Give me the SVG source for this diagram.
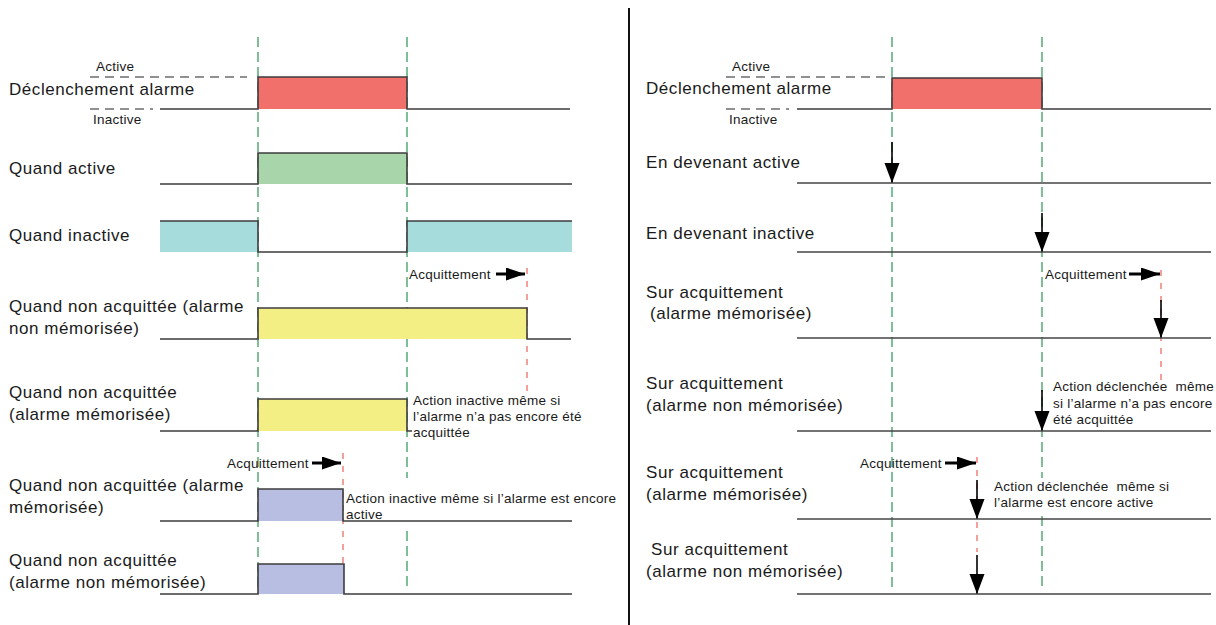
<svg xmlns="http://www.w3.org/2000/svg" width="1216" height="625" viewBox="0 0 1216 625">
<style>
text{font-family:"Liberation Sans",Arial,sans-serif;fill:#1a1a1a}
.lbl{font-size:17px;letter-spacing:0.55px}
.sm{font-size:13.5px;letter-spacing:0.25px}
.sig{fill:none;stroke:#3c3c3c;stroke-width:1.6}
.base{fill:none;stroke:#444;stroke-width:1.6}
.lvl{fill:none;stroke:#222;stroke-width:1.2;stroke-dasharray:9 6}
.g{fill:none;stroke:#3a9d62;stroke-width:1.3;stroke-dasharray:10 5}
.r{fill:none;stroke:#ef6f66;stroke-width:1.3;stroke-dasharray:6 7}
.dn{fill:none;stroke:#000;stroke-width:1.6;marker-end:url(#hd)}
.rt{fill:none;stroke:#000;stroke-width:3;marker-end:url(#hr)}
.red{fill:#f2706b}.grn{fill:#a8d5aa}.tea{fill:#a7dcdc}.yel{fill:#f4ef85}.blu{fill:#b8bee2}
</style>
<defs>
<marker id="hd" markerUnits="userSpaceOnUse" markerWidth="20" markerHeight="16" refX="20" refY="8" orient="auto" viewBox="0 0 20 16"><path d="M0,0.5 L20,8 L0,15.5 z" fill="#000"/></marker>
<marker id="hr" markerUnits="userSpaceOnUse" markerWidth="19" markerHeight="13" refX="19" refY="6.5" orient="auto" viewBox="0 0 19 13"><path d="M0,0 L19,6.5 L0,13 z" fill="#000"/></marker>
</defs>
<rect width="1216" height="625" fill="#fff"/>
<line x1="629" y1="8" x2="629" y2="625" stroke="#111" stroke-width="2"/>

<g id="connectors">
<line class="g" x1="258" y1="37" x2="258" y2="590"/>
<line class="g" x1="407" y1="37" x2="407" y2="478"/>
<line class="g" x1="407" y1="531" x2="407" y2="590"/>
<line class="r" x1="527" y1="268" x2="527" y2="395"/>
<line class="r" x1="343" y1="453" x2="343" y2="565"/>
<line class="g" x1="892" y1="37" x2="892" y2="588"/>
<line class="g" x1="1042" y1="37" x2="1042" y2="478"/>
<line class="g" x1="1042" y1="516" x2="1042" y2="588"/>
<line class="r" x1="1161" y1="270" x2="1161" y2="380"/>
<line class="r" x1="977" y1="457" x2="977" y2="552"/>
<line class="lvl" x1="90" y1="77" x2="247" y2="77"/>
<line class="lvl" x1="90" y1="109" x2="153" y2="109"/>
<line class="lvl" x1="726" y1="77" x2="887" y2="77"/>
<line class="lvl" x1="726" y1="109" x2="789" y2="109"/>
<line class="rt" x1="496" y1="274" x2="525" y2="274"/>
<line class="rt" x1="312" y1="463" x2="341" y2="463"/>
<line class="rt" x1="1129" y1="274" x2="1160" y2="274"/>
<line class="rt" x1="945" y1="463" x2="976" y2="463"/>
<line class="dn" x1="892" y1="142" x2="892" y2="183"/>
<line class="dn" x1="1042" y1="213" x2="1042" y2="252"/>
<line class="dn" x1="1161" y1="300" x2="1161" y2="338"/>
<line class="dn" x1="1042" y1="390" x2="1042" y2="431"/>
<line class="dn" x1="977" y1="480" x2="977" y2="519"/>
<line class="dn" x1="977" y1="555" x2="977" y2="594"/>
</g>

<g id="l-trigger">
<text class="sm" x="96" y="71">Active</text>
<text class="sm" x="93" y="124">Inactive</text>
<text class="lbl" x="9" y="95">Déclenchement alarme</text>
<rect class="red" x="258" y="77" width="149" height="32"/>
<path class="sig" d="M160,109 H258 V77 H407 V109 H570"/>
</g>
<g id="l-active">
<text class="lbl" x="9" y="174">Quand active</text>
<rect class="grn" x="258" y="153" width="149" height="31"/>
<path class="sig" d="M160,184 H258 V153 H407 V184 H572"/>
</g>
<g id="l-inactive">
<text class="lbl" x="9" y="241">Quand inactive</text>
<rect class="tea" x="160" y="221" width="98" height="31"/>
<rect class="tea" x="407" y="221" width="165" height="31"/>
<path class="sig" d="M160,221 H258 V252 H407 V221 H572"/>
</g>
<g id="l-ack1">
<text class="sm" x="409" y="279">Acquittement</text>
</g>
<g id="l-nonack-nonmem">
<text class="lbl" x="9" y="312">Quand non acquittée (alarme</text>
<text class="lbl" x="9" y="334">non mémorisée)</text>
<rect class="yel" x="258" y="308" width="269" height="31"/>
<path class="sig" d="M160,339 H258 V308 H527 V339 H571"/>
</g>
<g id="l-nonack-mem">
<text class="lbl" x="9" y="398">Quand non acquittée</text>
<text class="lbl" x="9" y="420">(alarme mémorisée)</text>
<rect class="yel" x="258" y="399" width="149" height="32"/>
<path class="sig" d="M160,431 H258 V399 H407 V431 H412"/>
<text class="sm" x="413" y="405">Action inactive même si</text>
<text class="sm" x="413" y="421">l’alarme n’a pas encore été</text>
<text class="sm" x="413" y="437">acquittée</text>
</g>
<g id="l-ack2">
<text class="sm" x="227" y="468">Acquittement</text>
</g>
<g id="l-nonack-mem2">
<text class="lbl" x="9" y="491">Quand non acquittée (alarme</text>
<text class="lbl" x="9" y="513">mémorisée)</text>
<rect class="blu" x="258" y="489" width="85" height="32"/>
<path class="sig" d="M160,521 H258 V489 H343 V521 H572"/>
<text class="sm" x="346" y="503">Action inactive même si l’alarme est encore</text>
<text class="sm" x="346" y="519">active</text>
</g>
<g id="l-nonack-nonmem2">
<text class="lbl" x="9" y="566">Quand non acquittée</text>
<text class="lbl" x="9" y="588">(alarme non mémorisée)</text>
<rect class="blu" x="258" y="564" width="86" height="30"/>
<path class="sig" d="M160,594 H258 V564 H344 V594 H572"/>
</g>

<g id="r-trigger">
<text class="sm" x="732" y="71">Active</text>
<text class="sm" x="729" y="124">Inactive</text>
<text class="lbl" x="646" y="94">Déclenchement alarme</text>
<rect class="red" x="892" y="78" width="150" height="31"/>
<path class="sig" d="M797,109 H892 V78 H1042 V109 H1211"/>
</g>
<g id="r-becoming-active">
<text class="lbl" x="646" y="168">En devenant active</text>
<line class="base" x1="797" y1="183" x2="1211" y2="183"/>
</g>
<g id="r-becoming-inactive">
<text class="lbl" x="646" y="239">En devenant inactive</text>
<line class="base" x1="797" y1="252" x2="1211" y2="252"/>
</g>
<g id="r-ack1">
<text class="sm" x="1045" y="279">Acquittement</text>
</g>
<g id="r-on-ack-mem">
<text class="lbl" x="646" y="298">Sur acquittement</text>
<text class="lbl" x="650" y="319">(alarme mémorisée)</text>
<line class="base" x1="797" y1="338" x2="1211" y2="338"/>
</g>
<g id="r-on-ack-nonmem">
<text class="lbl" x="646" y="389">Sur acquittement</text>
<text class="lbl" x="646" y="411">(alarme non mémorisée)</text>
<line class="base" x1="797" y1="431" x2="1211" y2="431"/>
<text class="sm" x="1053" y="391">Action déclenchée&#160; même</text>
<text class="sm" x="1053" y="408">si l’alarme n’a pas encore</text>
<text class="sm" x="1053" y="424">été acquittée</text>
</g>
<g id="r-ack2">
<text class="sm" x="860" y="468">Acquittement</text>
</g>
<g id="r-on-ack-mem2">
<text class="lbl" x="646" y="478">Sur acquittement</text>
<text class="lbl" x="646" y="500">(alarme mémorisée)</text>
<line class="base" x1="797" y1="519" x2="1211" y2="519"/>
<text class="sm" x="994" y="491">Action déclenchée&#160; même si</text>
<text class="sm" x="994" y="507">l’alarme est encore active</text>
</g>
<g id="r-on-ack-nonmem2">
<text class="lbl" x="651" y="555">Sur acquittement</text>
<text class="lbl" x="646" y="577">(alarme non mémorisée)</text>
<line class="base" x1="797" y1="594" x2="1211" y2="594"/>
</g>
</svg>
